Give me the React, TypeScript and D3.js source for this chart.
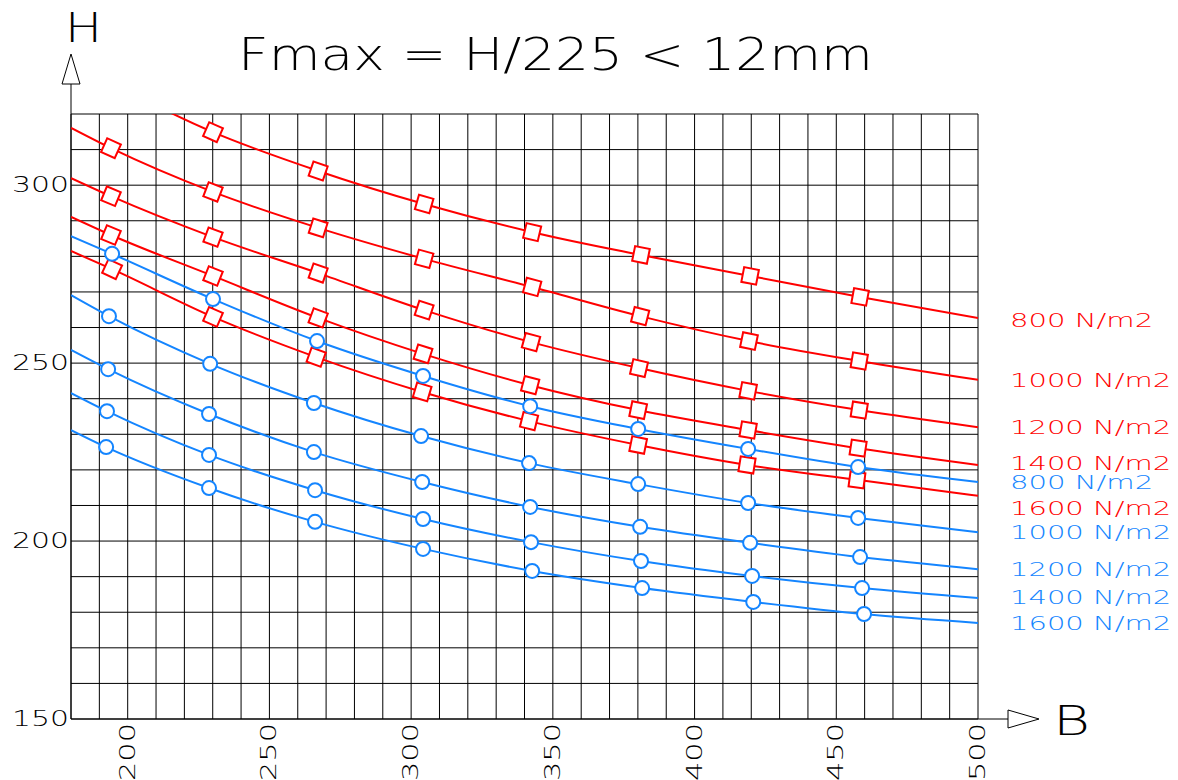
import React from "react";
import * as d3 from "d3";

const W = 1178;
const HT = 780;

const bTicks = [200, 250, 300, 350, 400, 450, 500];
const hTicks = [150, 200, 250, 300];
const loadLabels = ["800 N/m2", "1000 N/m2", "1200 N/m2", "1400 N/m2", "1600 N/m2"];
const title = "Fmax = H/225 < 12mm";

// red series (squares): first and last points are curve ends, the rest carry markers
const redB = [
  [180, 230.1, 267.2, 304.6, 342.7, 381.1, 419.6, 458.4, 500],
  [180, 194.1, 230.1, 267.2, 304.6, 342.7, 380.8, 419.2, 458.1, 500],
  [180, 194.1, 230.1, 267.2, 304.6, 342.3, 380.4, 418.9, 458.1, 500],
  [180, 194.1, 230.1, 267.2, 304.2, 342.0, 380.1, 418.9, 457.7, 500],
  [180, 194.5, 230.1, 266.5, 303.9, 341.6, 380.1, 418.5, 457.3, 500],
];
const redH = [
  [335, 314.9, 304.0, 294.7, 286.8, 280.4, 274.5, 268.6, 262.7],
  [316.1, 310.4, 298.1, 288.0, 279.3, 271.4, 263.2, 256.2, 250.6, 245.3],
  [302.0, 296.9, 285.4, 275.3, 264.9, 255.9, 248.6, 242.2, 236.8, 232.0],
  [291.1, 286.0, 274.5, 262.7, 252.6, 243.8, 236.8, 231.2, 226.1, 221.4],
  [281.5, 276.4, 263.0, 251.7, 241.9, 233.7, 227.0, 221.4, 217.2, 212.7],
];

// blue series (circles)
const blueB = [
  [180, 194.5, 230.1, 266.8, 304.2, 342.0, 380.1, 418.9, 457.7, 500],
  [180, 193.4, 229.1, 265.7, 303.5, 341.6, 380.1, 418.9, 457.7, 500],
  [180, 193.1, 228.7, 265.7, 303.9, 342.0, 380.8, 419.6, 458.4, 500],
  [180, 192.7, 228.7, 266.1, 304.2, 342.3, 381.1, 420.3, 459.1, 500],
  [180, 192.4, 228.7, 266.1, 304.2, 342.7, 381.5, 420.7, 459.8, 500],
];
const blueH = [
  [285.7, 280.7, 268.0, 256.2, 246.4, 237.9, 231.5, 225.9, 220.8, 216.6],
  [269.1, 263.2, 249.8, 238.8, 229.5, 221.9, 216.0, 210.7, 206.5, 202.5],
  [253.7, 248.3, 235.7, 225.0, 216.6, 209.6, 204.0, 199.5, 195.5, 192.1],
  [241.6, 236.5, 224.2, 214.3, 206.2, 199.7, 194.4, 190.2, 186.8, 184.0],
  [231.2, 226.4, 214.9, 205.4, 197.8, 191.6, 186.8, 182.9, 179.5, 177.0],
];

const RED = "#ff0000";
const BLUE = "#1485ff";
const FONT = "'DejaVu Sans', sans-serif";
const FW = 200;

// label vertical nudges (style)
const redLabelDy = [2, 0, 0, -2, 12];
const blueLabelDy = [0, 0, 0, -1, 0];

export default function App() {
  const x = d3.scaleLinear().domain([180, 500]).range([71, 978]);
  const y = d3.scaleLinear().domain([150, 320]).range([719, 114]);
  const line = d3
    .line<[number, number]>()
    .x((d) => x(d[0]))
    .y((d) => y(d[1]))
    .curve(d3.curveMonotoneX);

  const vGrid = d3.range(180, 501, 10);
  const hGrid = d3.range(150, 321, 10);

  const build = (B: number[][], Hs: number[][]) =>
    B.map((row, i) => row.map((b, j) => [b, Hs[i][j]] as [number, number]));
  const reds = build(redB, redH);
  const blues = build(blueB, blueH);

  const angleAt = (pts: [number, number][], j: number) => {
    const a = pts[j - 1];
    const c = pts[j + 1];
    return (Math.atan2(y(c[1]) - y(a[1]), x(c[0]) - x(a[0])) * 180) / Math.PI;
  };

  const [x0, x1] = x.range();
  const [yb, yt] = y.range();

  return (
    <svg
      width={W}
      height={HT}
      style={{ position: "absolute", left: 0, top: 0, background: "#fff" }}
      fontFamily={FONT}
      fontWeight={FW}
    >
      <defs>
        <clipPath id="plot">
          <rect x={x0} y={yt} width={x1 - x0} height={yb - yt} />
        </clipPath>
      </defs>
      <rect width={W} height={HT} fill="#fff" />

      {/* grid */}
      {vGrid.map((v) => (
        <line key={"v" + v} x1={x(v)} x2={x(v)} y1={yt} y2={yb} stroke="#000" strokeWidth={1} />
      ))}
      {hGrid.map((v) => (
        <line key={"h" + v} x1={x0} x2={x1} y1={y(v)} y2={y(v)} stroke="#000" strokeWidth={1} />
      ))}

      {/* axes with arrows */}
      <line x1={x0} x2={x0} y1={84} y2={yb} stroke="#000" strokeWidth={1} />
      <path d={`M${x0},54 L${x0 - 9},84 L${x0 + 9},84 Z`} fill="#fff" stroke="#000" strokeWidth={1} />
      <line x1={x0} x2={1008} y1={yb} y2={yb} stroke="#000" strokeWidth={1} />
      <path d={`M1039,${yb} L1008,${yb - 9} L1008,${yb + 9} Z`} fill="#fff" stroke="#000" strokeWidth={1} />

      <text x={65} y={42} fontSize={40} textLength={37} lengthAdjust="spacingAndGlyphs" fill="#000">
        H
      </text>
      <text x={1053} y={735} fontSize={40} textLength={37} lengthAdjust="spacingAndGlyphs" fill="#000">
        B
      </text>
      <text x={238} y={70} fontSize={45} textLength={635} lengthAdjust="spacingAndGlyphs" fill="#000">
        {title}
      </text>

      {/* y ticks */}
      {hTicks.map((t) => (
        <text
          key={"yt" + t}
          x={69}
          y={y(t)}
          fontSize={21}
          textAnchor="end"
          dominantBaseline="central"
          textLength={57}
          lengthAdjust="spacingAndGlyphs"
          fill="#000"
        >
          {t}
        </text>
      ))}
      {/* x ticks */}
      {bTicks.map((t) => (
        <text
          key={"xt" + t}
          transform={`translate(${x(t)},${yb + 4}) rotate(-90)`}
          fontSize={21}
          textAnchor="end"
          dominantBaseline="central"
          textLength={58}
          lengthAdjust="spacingAndGlyphs"
          fill="#000"
        >
          {t}
        </text>
      ))}

      {/* curves */}
      <g clipPath="url(#plot)" fill="none" strokeWidth={2}>
        {reds.map((pts, i) => (
          <path key={"rl" + i} d={line(pts) || ""} stroke={RED} />
        ))}
        {blues.map((pts, i) => (
          <path key={"bl" + i} d={line(pts) || ""} stroke={BLUE} />
        ))}
      </g>

      {/* markers */}
      {reds.map((pts, i) =>
        pts.slice(1, -1).map((p, k) => {
          const j = k + 1;
          const a = angleAt(pts, j);
          return (
            <rect
              key={`rm${i}-${j}`}
              x={-7.5}
              y={-7.5}
              width={15}
              height={15}
              transform={`translate(${x(p[0])},${y(p[1])}) rotate(${a})`}
              fill="#fff"
              stroke={RED}
              strokeWidth={2}
            />
          );
        })
      )}
      {blues.map((pts, i) =>
        pts.slice(1, -1).map((p, k) => (
          <circle
            key={`bm${i}-${k}`}
            cx={x(p[0])}
            cy={y(p[1])}
            r={7}
            fill="#fff"
            stroke={BLUE}
            strokeWidth={2}
          />
        ))
      )}

      {/* end labels */}
      {reds.map((pts, i) => (
        <text
          key={"rlab" + i}
          x={1010}
          y={y(pts[pts.length - 1][1]) + redLabelDy[i]}
          fontSize={20}
          dominantBaseline="central"
          textLength={loadLabels[i].length * 17.9}
          lengthAdjust="spacingAndGlyphs"
          fill={RED}
        >
          {loadLabels[i]}
        </text>
      ))}
      {blues.map((pts, i) => (
        <text
          key={"blab" + i}
          x={1010}
          y={y(pts[pts.length - 1][1]) + blueLabelDy[i]}
          fontSize={20}
          dominantBaseline="central"
          textLength={loadLabels[i].length * 17.9}
          lengthAdjust="spacingAndGlyphs"
          fill={BLUE}
        >
          {loadLabels[i]}
        </text>
      ))}
    </svg>
  );
}
